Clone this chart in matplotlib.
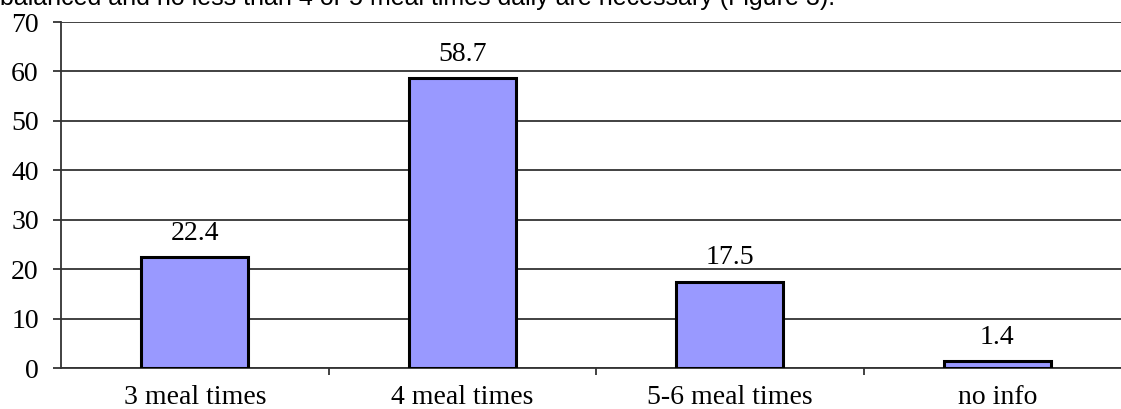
import matplotlib.pyplot as plt
import numpy as np

categories = ['3 meal times', '4 meal times', '5-6 meal times', 'no info']
percent = [22.4, 58.7, 17.5, 1.4]
y_ticks = [0, 10, 20, 30, 40, 50, 60, 70]

plt.rcParams['font.family'] = ['Liberation Serif', 'DejaVu Serif']

fig = plt.figure(figsize=(11.21, 4.09), dpi=100)
ax = fig.add_axes([61 / 1121, 1 - 368 / 409, 1070 / 1121, 346 / 409])

pos = np.arange(len(categories)) + 0.5
ax.bar(pos, percent, width=0.40, color='#9999ff', edgecolor='black', linewidth=2.2, zorder=3)
for x, v in zip(pos, percent):
    ax.text(x, v + 3.5, f'{v:.1f}', ha='center', va='baseline', fontsize=20)

ax.set_xlim(0, 4)
ax.set_ylim(0, 70)
ax.set_yticks(y_ticks)
ax.set_yticklabels([str(t) for t in y_ticks], fontsize=20)
ax.yaxis.grid(True, color='#333333', linewidth=1.3, zorder=0)

# category boundaries as ticks, labels centred under the bars
ax.set_xticks([1, 2, 3])
ax.set_xticklabels([])
ax.set_xticks(pos, minor=True)
ax.set_xticklabels(categories, minor=True, fontsize=20)
ax.tick_params(axis='x', which='major', direction='out', length=5, width=1.3, color='#333333')
ax.tick_params(axis='x', which='minor', length=0, pad=12)
ax.tick_params(axis='y', direction='out', length=6, width=1.3, color='#333333', pad=10)

for s in ['top', 'right']:
    ax.spines[s].set_visible(False)
for s in ['left', 'bottom']:
    ax.spines[s].set_color('#333333')
    ax.spines[s].set_linewidth(1.3)

# cut-off line of surrounding document text (only its lower part shows, as in the page crop)
fig.text(0.0, 1 - 5 / 409, 'balanced and no less than 4 or 5 meal times daily are necessary (Figure 3).',
         fontsize=18, family=['Liberation Sans', 'DejaVu Sans'], va='baseline', ha='left')

fig.savefig('out.png', dpi=100)
